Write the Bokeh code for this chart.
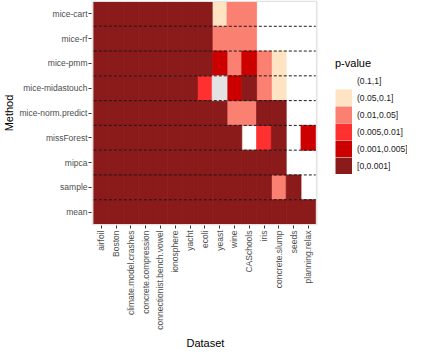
from bokeh.plotting import figure
from bokeh.models import Range1d, FixedTicker, Legend, LegendItem, ColumnDataSource, Title
from bokeh.embed import file_html
from bokeh.resources import INLINE
import math

datasets = ["airfoil", "Boston", "climate.model.crashes", "concrete.compression",
            "connectionist.bench.vowel", "ionosphere", "yacht", "ecoli", "yeast",
            "wine", "CASchools", "iris", "concrete.slump", "seeds", "planning.relax"]
methods = ["mice-cart", "mice-rf", "mice-pmm", "mice-midastouch", "mice-norm.predict",
           "missForest", "mipca", "sample", "mean"]
bins = ["(0.1,1]", "(0.05,0.1]", "(0.01,0.05]", "(0.005,0.01]", "(0.001,0.005]", "[0,0.001]"]
bin_colors = ["#FFFFFF", "#FFE4C4", "#FA8072", "#FF3030", "#CD0000", "#8B1A1A"]
na_color = "#E3E3E3"

# p-value bin index (into bins) for each method (row) and dataset (column); None = missing
mice_cart = [5, 5, 5, 5, 5, 5, 5, 5, 1, 2, 2, 0, 0, 0, 0]
mice_rf = [5, 5, 5, 5, 5, 5, 5, 5, 2, 2, 2, 0, 0, 0, 0]
mice_pmm = [5, 5, 5, 5, 5, 5, 5, 5, 4, 2, 4, 2, 1, 0, 0]
mice_midastouch = [5, 5, 5, 5, 5, 5, 5, 3, None, 4, 5, 2, 1, 0, 0]
mice_norm_predict = [5, 5, 5, 5, 5, 5, 5, 5, 5, 2, 2, 5, 5, 0, 0]
missforest = [5, 5, 5, 5, 5, 5, 5, 5, 5, 5, 0, 3, 5, 0, 4]
mipca = [5, 5, 5, 5, 5, 5, 5, 5, 5, 5, 5, 5, 5, 0, 0]
sample = [5, 5, 5, 5, 5, 5, 5, 5, 5, 5, 5, 5, 2, 5, 0]
mean = [5, 5, 5, 5, 5, 5, 5, 5, 5, 5, 5, 5, 5, 5, 5]

rows = [mice_cart, mice_rf, mice_pmm, mice_midastouch, mice_norm_predict,
        missforest, mipca, sample, mean]

nd, nm = len(datasets), len(methods)
FW, FH = 316, 225
cell_w = 222 / nd
xpad = 2.3 / cell_w
ypad = 1.0 / ((FH - 2) / nm)
p = figure(frame_width=FW, frame_height=FH, output_backend="svg", toolbar_location=None,
           x_range=Range1d(-0.5 - xpad, -0.5 - xpad + FW / cell_w),
           y_range=Range1d(-0.5 - ypad, nm - 0.5 + ypad),
           min_border_left=87, min_border_right=0, min_border_top=0,
           min_border_bottom=0)
p.background_fill_color = "white"
p.border_fill_color = "white"
p.outline_line_color = None
p.xgrid.visible = False
p.ygrid.visible = False
# off-screen range used only by the legend-key renderers
p.extra_y_ranges = {"keys": Range1d(1000, 1001)}

# position of each dataset / method on the axes (mean at the bottom)
xpos = {d: i for i, d in enumerate(datasets)}
ypos = {m: nm - 1 - i for i, m in enumerate(methods)}

items = []
for b, (label, col) in enumerate(zip(bins, bin_colors)):
    xs, ys = [], []
    for m, row in zip(methods, rows):
        for d, v in zip(datasets, row):
            if v == b:
                xs.append(xpos[d])
                ys.append(ypos[m])
    src = ColumnDataSource(dict(x=xs, y=ys))
    p.rect(x="x", y="y", width=1, height=1, source=src,
           fill_color=col, line_color=col, line_width=0.8)
    # legend key: same cells, thick stroke so the key fills its whole box
    key = p.rect(x="x", y="y", width=1, height=1, source=src, y_range_name="keys",
                 fill_color=col, line_color=col, line_width=3.4, line_join="miter")
    items.append(LegendItem(label=label, renderers=[key]))

nx, ny = [], []
for m, row in zip(methods, rows):
    for d, v in zip(datasets, row):
        if v is None:
            nx.append(xpos[d])
            ny.append(ypos[m])
p.rect(x=nx, y=ny, width=1, height=1, fill_color=na_color, line_color=na_color,
       line_width=0.8)

# dashed separators between method rows
bounds = [k - 0.5 for k in range(1, nm)]
p.segment(x0=[-0.5] * len(bounds), x1=[nd - 0.5] * len(bounds), y0=bounds, y1=bounds,
          line_color="#1A1A1A", line_width=1, line_dash="3 2")

# panel border
p.quad(left=[-0.5 - xpad + 0.05], right=[nd - 0.5 + 0.06],
       bottom=[-0.5 - ypad + 0.03], top=[nm - 0.5 + ypad - 0.03],
       fill_color=None, line_color="#E3E3E3", line_width=1.6)

legend = Legend(items=items, location=(244, 51), title="p-value")
legend.title_text_font_size = "11px"
legend.title_text_font_style = "normal"
legend.title_text_font = "Liberation Sans"
legend.title_text_color = "#000000"
legend.title_standoff = 3
legend.label_text_font = "Liberation Sans"
legend.label_text_font_size = "8.6px"
legend.label_text_color = "#1A1A1A"
legend.glyph_width = 17
legend.glyph_height = 17
legend.label_height = 17
legend.spacing = 0
legend.label_standoff = 5
legend.padding = 0
legend.margin = 0
legend.border_line_color = None
legend.background_fill_alpha = 0
p.add_layout(legend)

p.xaxis.ticker = FixedTicker(ticks=list(range(nd)))
p.xaxis.major_label_overrides = {xpos[d]: d for d in datasets}
p.yaxis.ticker = FixedTicker(ticks=list(range(nm)))
p.yaxis.major_label_overrides = {ypos[m]: m for m in methods}

for ax in (p.xaxis, p.yaxis):
    ax.axis_line_color = None
    ax.major_tick_line_color = "#333333"
    ax.major_tick_out = 3
    ax.major_tick_in = 0
    ax.minor_tick_line_color = None
    ax.major_label_text_font = "Liberation Sans"
    ax.major_label_text_color = "#4D4D4D"
    ax.axis_label_text_font = "Liberation Sans"
    ax.axis_label_text_font_size = "11px"
    ax.axis_label_text_font_style = "normal"
    ax.axis_label_text_color = "#000000"

p.xaxis.major_label_text_font_size = "8.5px"
p.yaxis.major_label_text_font_size = "8.5px"
p.yaxis.axis_label = "Method"
p.xaxis.major_label_orientation = math.pi / 2
p.xaxis.major_label_standoff = 2
p.yaxis.major_label_standoff = 1
p.yaxis.axis_label_standoff = 1

xtitle = Title(text="Dataset", align="left", offset=95, text_font="Liberation Sans",
               text_font_size="11px", text_font_style="normal", text_color="#000000",
               standoff=4)
p.add_layout(xtitle, "below")

open("out.html", "w").write(file_html(p, INLINE))
